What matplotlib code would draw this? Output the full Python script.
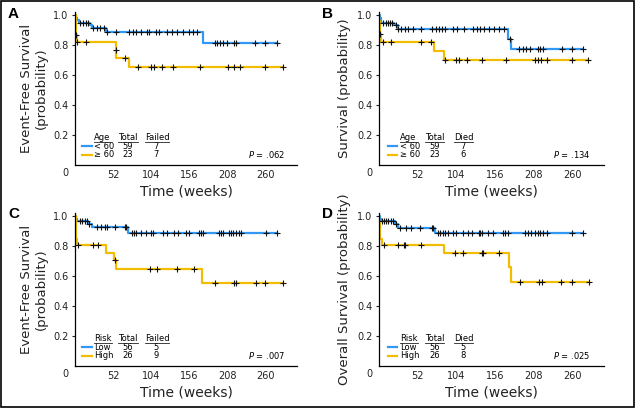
import matplotlib
matplotlib.use("Agg")
import matplotlib.pyplot as plt
import numpy as np
from matplotlib.patches import Rectangle

plt.rcParams['font.family'] = ['Liberation Sans Narrow', 'DejaVu Sans']

BLUE = '#3199F5'
GOLD = '#F2BD00'

# ---------------- data ----------------
x_ticks = [52, 104, 156, 208, 260]
y_ticks = [0.2, 0.4, 0.6, 0.8, 1.0]

# Panel A: EFS by age
A_blue_t = [1, 3, 5, 20, 23, 42, 174]
A_blue_s = [0.983, 0.966, 0.949, 0.932, 0.914, 0.884, 0.816]
A_blue_c = [7, 10, 14, 17, 24, 30, 34, 39, 43, 55, 73, 79, 83, 89, 98, 100, 110, 114, 125,
            132, 139, 147, 155, 160, 166, 190, 194, 198, 201, 207, 216, 220, 245, 259, 275]
A_gold_t = [0.3, 0.6, 0.9, 2.0, 55, 56, 73]
A_gold_s = [0.957, 0.913, 0.867, 0.822, 0.77, 0.715, 0.655]
A_gold_c = [1.3, 3, 15, 55.5, 68, 86, 104, 107, 118, 134, 170, 208, 216, 225, 259, 283]

# Panel B: OS by age
B_blue_t = [1, 2, 3, 20, 25, 174, 178]
B_blue_s = [0.983, 0.966, 0.949, 0.932, 0.904, 0.838, 0.771]
B_blue_c = [5.6, 8.8, 11.5, 14.6, 16.9, 23, 26, 30, 35, 39, 45, 57, 71, 76, 80, 85, 89, 100,
            105, 114, 127, 132, 136, 141, 148, 155, 161, 168, 176, 189, 194, 198, 203, 214,
            217, 221, 246, 260, 275]
B_gold_t = [0.3, 0.6, 0.9, 2.5, 74.5, 88]
B_gold_s = [0.957, 0.913, 0.871, 0.822, 0.762, 0.70]
B_gold_c = [1.5, 5, 15.5, 56.5, 70, 89, 104, 108, 119, 138, 171, 210, 214, 218, 226, 260, 282]

# Panel C: EFS by risk
C_blue_t = [1, 2, 18, 22.5, 72.5]
C_blue_s = [0.982, 0.964, 0.946, 0.925, 0.888]
C_blue_c = [6.5, 9.6, 13.3, 16.5, 19, 29, 35, 40.5, 43.6, 54, 68, 69.5, 77.5, 80.7, 83.5, 89,
            96, 103.8, 106.5, 120, 125, 135, 140, 150.6, 155, 169.5, 172, 174.5, 196, 198.5,
            202, 210, 212, 215.5, 219, 223.5, 226, 260, 275]
C_gold_t = [0.3, 0.6, 0.9, 1.2, 3.0, 42, 53.5, 55, 173.5]
C_gold_s = [0.962, 0.923, 0.885, 0.846, 0.808, 0.755, 0.705, 0.65, 0.555]
C_gold_c = [4, 24, 31.5, 54, 101.5, 111.5, 138.8, 161.5, 191, 216.5, 220, 246, 259.5, 283.5]

# Panel D: OS by risk
D_blue_t = [1, 2, 21.4, 26, 75.5]
D_blue_s = [0.982, 0.964, 0.946, 0.92, 0.888]
D_blue_c = [3.4, 6.5, 9.2, 12.4, 15.5, 19, 23, 28, 36, 42.6, 55, 71, 72, 78.6, 82, 85.6, 89,
            93.4, 99, 103.6, 112.6, 120, 124.5, 135, 136, 138.3, 147, 154, 167.3, 169.6, 173,
            197, 200, 204, 210.6, 213.7, 217.3, 221, 226, 260, 275]
D_gold_t = [0.3, 0.6, 1.0, 1.5, 3.5, 87.6, 175.5, 178]
D_gold_s = [0.962, 0.923, 0.885, 0.846, 0.808, 0.755, 0.66, 0.563]
D_gold_c = [7, 26, 33.6, 34.5, 56.5, 102.5, 113, 138.5, 139.5, 162, 190.3, 216, 219.6,
            245.7, 260, 282.6]

panel_letters = ['A', 'B', 'C', 'D']
y_labels = ['Event-Free Survival\n(probability)', 'Survival (probability)',
            'Event-Free Survival\n(probability)', 'Overall Survival (probability)']
group_headers = ['Age', 'Age', 'Risk', 'Risk']
event_headers = ['Failed', 'Died', 'Failed', 'Died']
group_names = [['< 60', '\u2265 60'], ['< 60', '\u2265 60'], ['Low', 'High'], ['Low', 'High']]
totals = [[59, 23], [59, 23], [56, 26], [56, 26]]
events = [[7, 7], [7, 6], [5, 9], [5, 8]]
p_values = ['.062', '.134', '.007', '.025']

curves = [
    ((A_blue_t, A_blue_s, A_blue_c), (A_gold_t, A_gold_s, A_gold_c)),
    ((B_blue_t, B_blue_s, B_blue_c), (B_gold_t, B_gold_s, B_gold_c)),
    ((C_blue_t, C_blue_s, C_blue_c), (C_gold_t, C_gold_s, C_gold_c)),
    ((D_blue_t, D_blue_s, D_blue_c), (D_gold_t, D_gold_s, D_gold_c)),
]

# ---------------- figure ----------------
W, H = 640, 408
fig = plt.figure(figsize=(W / 100, H / 100), dpi=100)

# axes rectangles in pixels: (left, top, right, bottom)
rects = [(75.3, 12, 297.3, 165), (379.2, 12, 604, 165),
         (75.3, 213, 297.3, 366), (379.2, 213, 604, 366)]


def km_xy(t, s, c):
    tt = [0.0] + list(t)
    ss = [1.0] + list(s)
    end = max(max(c), max(t))
    xs = tt + [end]
    ys = ss + [ss[-1]]
    ct = np.array(c)
    idx = np.searchsorted(np.array(tt), ct, side='right') - 1
    cy = np.array(ss)[idx]
    return xs, ys, ct, cy


for i in range(4):
    l, tp, r, b = rects[i]
    ax = fig.add_axes([l / W, 1 - b / H, (r - l) / W, (b - tp) / H])
    ax.set_xlim(0, 303)
    ax.set_ylim(0, 1.02)
    for sp in ['top', 'right']:
        ax.spines[sp].set_visible(False)
    for sp in ['left', 'bottom']:
        ax.spines[sp].set_linewidth(0.9)
    ax.set_xticks(x_ticks)
    ax.set_xticklabels([str(v) for v in x_ticks])
    ax.set_yticks(y_ticks)
    ax.set_yticklabels(['%.1f' % v for v in y_ticks])
    ax.tick_params(axis='both', labelsize=7, length=2.5, width=0.8, pad=2.5, colors='#222222')
    ax.tick_params(axis='x', length=0, pad=3.5)
    ax.text(-13, -0.052, '0', transform=ax.get_xaxis_transform(), ha='center', va='center',
            fontsize=7, color='#222222')

    for (t, s, c), col in zip(curves[i], [BLUE, GOLD]):
        xs, ys, ct, cy = km_xy(t, s, c)
        ax.step(xs, ys, where='post', color=col, lw=1.6, zorder=2)
    for (t, s, c), col in zip(curves[i], [BLUE, GOLD]):
        xs, ys, ct, cy = km_xy(t, s, c)
        ax.plot(ct, cy, ls='none', marker='+', ms=4.5, mew=0.8, color='#111111', zorder=3)

    ax.set_xlabel('Time (weeks)', fontsize=10, labelpad=3, color='#222222')
    ax.set_ylabel(y_labels[i], fontsize=9.5, labelpad=4, color='#222222', linespacing=1.1)

    # legend table
    wpx = r - l
    if i % 2 == 0:
        lx0, lx1, gx, tx, ex, px = 82, 92, 94, 128, 156, 285
    else:
        lx0, lx1, gx, tx, ex, px = 387.7, 397.3, 400, 434.3, 462.7, 590.7
        lx0 -= 304; lx1 -= 304; gx -= 304; tx -= 304; ex -= 304; px -= 304

    def ax_x(p):
        return (p - (75.3 if i % 2 == 0 else 379.2 - 304)) / wpx
    hy, r1y, r2y = 0.183, 0.123, 0.067
    fs = 6
    hdr = [ax.text(ax_x(gx), hy, group_headers[i], transform=ax.transAxes, ha='left',
                   va='center', fontsize=fs),
           ax.text(ax_x(tx), hy, 'Total', transform=ax.transAxes, ha='center',
                   va='center', fontsize=fs),
           ax.text(ax_x(ex + 1), hy, event_headers[i], transform=ax.transAxes, ha='center',
                   va='center', fontsize=fs)]
    for k, (yy, col) in enumerate(zip([r1y, r2y], [BLUE, GOLD])):
        ax.plot([ax_x(lx0), ax_x(lx1)], [yy, yy], transform=ax.transAxes, color=col,
                lw=1.6, clip_on=False)
        ax.text(ax_x(gx), yy, group_names[i][k], transform=ax.transAxes, ha='left',
                va='center', fontsize=fs)
        ax.text(ax_x(tx), yy, str(totals[i][k]), transform=ax.transAxes, ha='center',
                va='center', fontsize=fs)
        ax.text(ax_x(ex), yy, str(events[i][k]), transform=ax.transAxes, ha='center',
                va='center', fontsize=fs)
    ax.text(ax_x(px), r2y, r'$\it{P}$ = ' + p_values[i], transform=ax.transAxes,
            ha='right', va='center', fontsize=fs)
    ax._hdr = hdr

    # panel letter
    lxp = 8 if i % 2 == 0 else 322
    lyp = 14 if i < 2 else 214
    fig.text(lxp / W, 1 - lyp / H, panel_letters[i], fontsize=11, fontweight='bold',
             family='Liberation Sans', ha='left', va='center')

# underline headers
fig.canvas.draw()
rend = fig.canvas.get_renderer()
for ax in fig.axes:
    for t in ax._hdr:
        bb = t.get_window_extent(rend)
        y = bb.y0 - 0.5
        fig.add_artist(plt.Line2D([bb.x0 / W, bb.x1 / W], [y / H, y / H], color='#222222',
                                  lw=0.6, transform=fig.transFigure))

# border
fig.add_artist(Rectangle((0.7 / W, 1 - 407 / H), 633.5 / W, 406 / H, fill=False,
                         edgecolor='black', lw=1.2, transform=fig.transFigure))

fig.savefig('out.png', dpi=100)
